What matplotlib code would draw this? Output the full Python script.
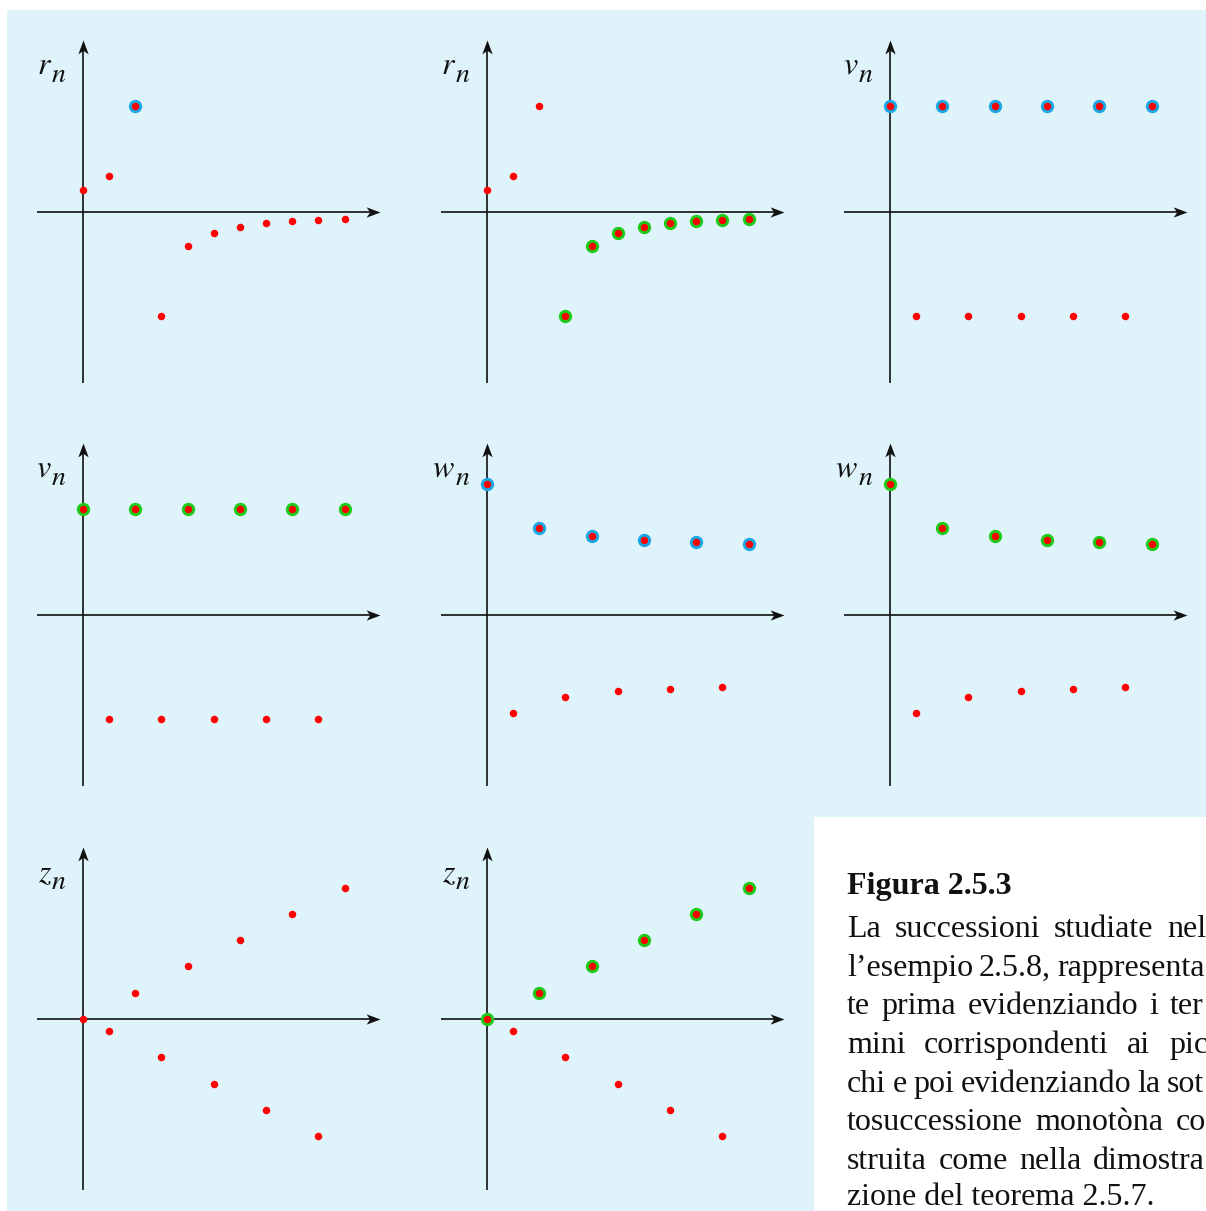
import matplotlib
matplotlib.use('Agg')
import matplotlib.pyplot as plt
from matplotlib.path import Path
from matplotlib.patches import Rectangle

# ---------------- data ----------------
n_idx = [0, 1, 2, 3, 4, 5, 6, 7, 8, 9, 10]
r_vals = [0.42, 0.69, 2.03, -2.0, -0.66, -0.40, -0.28, -0.22, -0.18, -0.154, -0.13]
v_vals = [2.03, -2.0, 2.03, -2.0, 2.03, -2.0, 2.03, -2.0, 2.03, -2.0, 2.03]
w_vals = [2.51, -1.89, 1.67, -1.58, 1.51, -1.47, 1.44, -1.42, 1.40, -1.38, 1.37]
z_vals = [0.0, -0.23, 0.50, -0.73, 1.02, -1.25, 1.52, -1.75, 2.02, -2.25, 2.52]

peaks_r = [2]
mono_r = [3, 4, 5, 6, 7, 8, 9, 10]
even_idx = [0, 2, 4, 6, 8, 10]

panel_labels = ['r', 'r', 'v', 'v', 'w', 'w', 'z', 'z']
panel_series = ['r', 'r', 'v', 'v', 'w', 'w', 'z', 'z']
panel_marked = [peaks_r, mono_r, even_idx, even_idx, even_idx, even_idx, [], even_idx]
panel_ring = ['blue', 'green', 'blue', 'green', 'blue', 'green', None, 'green']

caption_title = 'Figura 2.5.3'
caption_lines = [
    ['La', 'successioni', 'studiate', 'nel'],
    ['l\u2019esempio', '2.5.8,', 'rappresenta'],
    ['te', 'prima', 'evidenziando', 'i', 'ter'],
    ['mini', 'corrispondenti', 'ai', 'pic'],
    ['chi', 'e', 'poi', 'evidenziando', 'la', 'sot'],
    ['tosuccessione', 'monot\u00f2na', 'co'],
    ['struita', 'come', 'nella', 'dimostra'],
]
caption_last = 'zione del teorema 2.5.7.'
last_word_start = [1167, 1057, 1170, 1169, 1167, 1176, 1093]

# ---------------- styling ----------------
W, H, DPI = 1206, 1211, 100
BG = '#dff3fa'
RED = '#ff0000'
RING = {'blue': '#1ba6e4', 'green': '#1dcb1d'}
UX, UY = 26.15, 52.0
COL_X = [83, 487, 890]
ROW_Y = [212, 615, 1019]
INK = '#111111'

fig = plt.figure(figsize=(W / DPI, H / DPI), dpi=DPI)
fig.patch.set_facecolor('white')
fig.add_artist(Rectangle((7 / W, 0), 1 - 7 / W, 1 - 10 / H, transform=fig.transFigure,
                         facecolor=BG, edgecolor='none', zorder=0))
fig.add_artist(Rectangle((814 / W, 0), 1 - 814 / W, 1 - 817 / H, transform=fig.transFigure,
                         facecolor='white', edgecolor='none', zorder=0.5))

arrow_right = Path([(0, 0), (-1, 0.37), (-0.74, 0), (-1, -0.37), (0, 0)],
                   [Path.MOVETO, Path.LINETO, Path.LINETO, Path.LINETO, Path.CLOSEPOLY])
arrow_up = Path([(0, 0), (0.37, -1), (0, -0.74), (-0.37, -1), (0, 0)],
                [Path.MOVETO, Path.LINETO, Path.LINETO, Path.LINETO, Path.CLOSEPOLY])

series = {'r': r_vals, 'v': v_vals, 'w': w_vals, 'z': z_vals}
lab_font = dict(family='STIXGeneral', style='italic', color=INK)
renderer = fig.canvas.get_renderer()


def text_width(s, **kw):
    t = fig.text(0, 0, s, **kw)
    w = t.get_window_extent(renderer).width
    t.remove()
    return w


for k in range(8):
    row, col = divmod(k, 3)
    ox, oy = COL_X[col], ROW_Y[row]
    left, right, half = 60, 320, 190
    ax = fig.add_axes([(ox - left) / W, 1 - (oy + half) / H, (left + right) / W, 2 * half / H])
    ax.set_xlim(-left / UX, right / UX)
    ax.set_ylim(-half / UY, half / UY)
    ax.axis('off')
    ax.patch.set_alpha(0)

    # axes with arrows
    xt = 297 / UX
    yt = 172 / UY
    ax.plot([-46 / UX, xt - 4 / UX], [0, 0], color=INK, lw=1.2, zorder=1, solid_capstyle='butt')
    ax.plot([0, 0], [-171 / UY, yt - 4 / UY], color=INK, lw=1.2, zorder=1, solid_capstyle='butt')
    ax.plot([xt], [0], marker=arrow_right, ms=20, color=INK, mew=0, zorder=1)
    ax.plot([0], [yt], marker=arrow_up, ms=20, color=INK, mew=0, zorder=1)

    vals = series[panel_series[k]]
    marked = panel_marked[k]
    if panel_ring[k] is not None and marked:
        ax.plot([n_idx[i] for i in marked], [vals[i] for i in marked], 'o',
                color=RING[panel_ring[k]], ms=9.6, mew=0, zorder=3, clip_on=False)
    ax.plot(n_idx, vals, 'o', color=RED, ms=5.4, mew=0, zorder=4, clip_on=False)

    # label: letter with a lowered subscript n, right edge at ox - 19
    wn = text_width('n', fontsize=20, **lab_font)
    n_left = ox - 18 - wn
    fig.text((n_left - 1) / W, 1 - (oy - 138) / H, panel_labels[k],
             ha='right', va='baseline', fontsize=23, **lab_font)
    fig.text(n_left / W, 1 - (oy - 130) / H, 'n',
             ha='left', va='baseline', fontsize=20, **lab_font)

# ---------------- caption ----------------
cap_font = dict(family='Liberation Serif', fontsize=23, color=INK)
X0 = 847
fig.text(X0 / W, 1 - 894 / H, caption_title, fontweight='bold',
         family='Liberation Serif', fontsize=23, color=INK, va='baseline')

baselines = [937, 976, 1014, 1053, 1092, 1130, 1169, 1205]
for li, words in enumerate(caption_lines):
    widths = [text_width(wd, **cap_font) for wd in words]
    gap = (last_word_start[li] - X0 - sum(widths[:-1])) / (len(words) - 1)
    gap = max(gap, 6)
    x = X0
    for wd, wpx in zip(words, widths):
        fig.text(x / W, 1 - baselines[li] / H, wd, va='baseline', **cap_font)
        x += wpx + gap
fig.text(X0 / W, 1 - baselines[-1] / H, caption_last, va='baseline', **cap_font)

fig.savefig('out.png', dpi=DPI, facecolor='white')
